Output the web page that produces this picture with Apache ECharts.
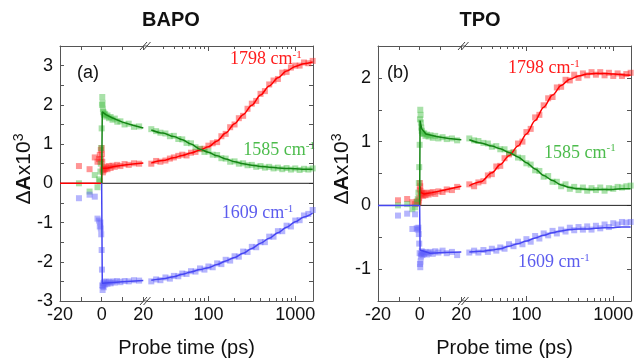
<!DOCTYPE html>
<html><head><meta charset="utf-8">
<script src="https://cdn.jsdelivr.net/npm/echarts@6/dist/echarts.min.js"></script>
<style>html,body{margin:0;padding:0;background:#fff}#c{width:638px;height:360px}</style>
</head><body><div id="c"></div><script>
// ---------- DATA ----------
// linear part (ps), panel (a) BAPO
const tLinA = [-10.9, -5.8, -3.3, -2.0, -1.3, -0.9, -0.6, -0.4, -0.2, 0, 0.15, 0.3, 0.45, 0.6, 0.8, 1.0, 1.3, 1.7, 2.2, 2.8, 3.5, 4.3, 5.2, 6.3, 7.5, 9, 11, 13, 15.5, 18];
const redLinA = [0.44, 0.36, 0.66, 0.55, 0.62, 0.72, 0.55, 0.85, 0.62, 0.90, 0.75, 0.55, 0.35, 0.28, 0.40, 0.33, 0.38, 0.36, 0.42, 0.36, 0.44, 0.39, 0.45, 0.42, 0.47, 0.44, 0.49, 0.47, 0.51, 0.50];
const greenLinA = [0.0, -0.21, 0.21, -0.1, 0.1, 0.05, 0.3, 0.5, 0.9, 1.4, 2.0, 2.2, 2.05, 1.9, 1.82, 1.78, 1.74, 1.77, 1.70, 1.73, 1.66, 1.69, 1.62, 1.65, 1.57, 1.58, 1.50, 1.52, 1.44, 1.45];
const blueLinA = [-0.38, -0.29, -0.34, -0.9, -0.95, -1.1, -1.0, -1.15, -1.3, -1.7, -2.2, -2.6, -2.72, -2.62, -2.55, -2.65, -2.52, -2.58, -2.50, -2.56, -2.52, -2.55, -2.50, -2.53, -2.49, -2.52, -2.49, -2.50, -2.47, -2.48];
// linear part (ps), panel (b) TPO
const tLinB = [-10.4, -6, -3.5, -2.2, -1.4, -0.9, -0.6, -0.4, -0.2, 0, 0.15, 0.3, 0.45, 0.6, 0.8, 1.0, 1.3, 1.7, 2.2, 2.8, 3.5, 4.3, 5.2, 6.3, 7.5, 9, 11, 13, 15.5, 18];
const redLinB = [0.08, 0.10, 0.05, 0.02, 0.06, 0.03, 0.08, 0.05, 0.12, 0.25, 0.35, 0.30, 0.22, 0.18, 0.20, 0.16, 0.19, 0.15, 0.19, 0.16, 0.20, 0.17, 0.19, 0.21, 0.18, 0.22, 0.21, 0.25, 0.24, 0.29];
const greenLinB = [0.0, 0.02, -0.06, -0.03, 0.05, 0.1, 0.2, 0.35, 0.6, 0.95, 1.35, 1.5, 1.42, 1.30, 1.22, 1.17, 1.14, 1.12, 1.13, 1.09, 1.11, 1.08, 1.10, 1.06, 1.09, 1.05, 1.07, 1.04, 1.05, 1.02];
const blueLinB = [-0.16, -0.13, -0.37, -0.14, -0.36, -0.38, -0.35, -0.45, -0.6, -0.75, -0.92, -0.97, -0.88, -0.80, -0.76, -0.72, -0.78, -0.74, -0.76, -0.73, -0.77, -0.75, -0.73, -0.76, -0.72, -0.74, -0.71, -0.75, -0.73, -0.78];
// log part (ps), shared time grid
const tLog = [22, 25, 28, 32, 36, 40, 45, 50, 56, 63, 71, 80, 90, 100, 112, 126, 141, 158, 178, 200, 224, 251, 282, 316, 355, 398, 447, 501, 562, 631, 708, 794, 891, 1000, 1122, 1259, 1413, 1585];
const redLogA = [0.50, 0.57, 0.55, 0.58, 0.63, 0.66, 0.70, 0.73, 0.71, 0.78, 0.80, 0.87, 0.88, 0.96, 1.02, 1.05, 1.20, 1.26, 1.43, 1.50, 1.66, 1.72, 1.90, 2.03, 2.10, 2.28, 2.35, 2.52, 2.62, 2.66, 2.82, 2.84, 2.95, 3.00, 3.00, 3.08, 3.06, 3.12];
const greenLogA = [1.38, 1.33, 1.29, 1.27, 1.20, 1.21, 1.13, 1.12, 1.03, 1.02, 0.92, 0.88, 0.80, 0.81, 0.73, 0.72, 0.64, 0.63, 0.55, 0.56, 0.50, 0.51, 0.46, 0.47, 0.42, 0.44, 0.40, 0.42, 0.38, 0.40, 0.36, 0.39, 0.35, 0.38, 0.34, 0.37, 0.35, 0.38];
const blueLogA = [-2.50, -2.45, -2.47, -2.40, -2.43, -2.36, -2.37, -2.30, -2.31, -2.24, -2.25, -2.17, -2.20, -2.12, -2.14, -2.04, -2.06, -1.95, -1.97, -1.86, -1.87, -1.74, -1.75, -1.62, -1.63, -1.50, -1.50, -1.36, -1.36, -1.22, -1.22, -1.08, -1.10, -0.95, -0.94, -0.82, -0.78, -0.68];
const redLogB = [0.33, 0.30, 0.36, 0.38, 0.47, 0.49, 0.61, 0.62, 0.74, 0.80, 0.83, 0.97, 1.00, 1.15, 1.20, 1.38, 1.42, 1.57, 1.68, 1.70, 1.85, 1.86, 1.97, 1.96, 2.05, 2.00, 2.07, 2.04, 2.09, 2.05, 2.09, 2.04, 2.08, 2.03, 2.07, 2.03, 2.06, 2.08];
const greenLogB = [1.05, 1.02, 1.01, 0.98, 0.97, 0.92, 0.93, 0.88, 0.88, 0.82, 0.83, 0.75, 0.74, 0.66, 0.64, 0.55, 0.54, 0.45, 0.46, 0.37, 0.37, 0.30, 0.33, 0.26, 0.29, 0.24, 0.28, 0.23, 0.27, 0.24, 0.28, 0.23, 0.27, 0.26, 0.29, 0.28, 0.30, 0.31];
const blueLogB = [-0.74, -0.71, -0.74, -0.70, -0.73, -0.68, -0.71, -0.66, -0.68, -0.61, -0.64, -0.57, -0.61, -0.53, -0.57, -0.48, -0.52, -0.44, -0.47, -0.40, -0.44, -0.38, -0.41, -0.35, -0.39, -0.34, -0.38, -0.33, -0.38, -0.32, -0.36, -0.30, -0.34, -0.28, -0.30, -0.26, -0.27, -0.26];
// fitted curves
const redFitLinA = [[-20, 0], [0, 0], [0.15, 0.62], [0.4, 0.38], [1, 0.36], [3, 0.39], [6, 0.43], [10, 0.46], [15, 0.49], [20, 0.52]];
const greenFitLinA = [[0, 0], [0.3, 1.82], [2, 1.75], [5, 1.67], [10, 1.56], [15, 1.48], [20, 1.41]];
const blueFitLinA = [[0, 0], [0.3, -2.55], [2, -2.54], [10, -2.51], [20, -2.48]];
const redFitLinB = [[0, 0], [0.2, 0.3], [0.6, 0.2], [2, 0.18], [6, 0.2], [12, 0.24], [20, 0.30]];
const greenFitLinB = [[0, 0], [0.2, 1.33], [1, 1.2], [3, 1.12], [8, 1.08], [14, 1.05], [20, 1.03]];
const blueFitLinB = [[-20, 0], [0, 0], [0.2, -0.7], [1, -0.72], [5, -0.75], [12, -0.74], [20, -0.73]];
const fitTLog = [22, 30, 40, 50, 63, 80, 100, 126, 158, 200, 251, 316, 398, 501, 631, 794, 1000, 1259, 1585];
const redFitLogA = [0.52, 0.58, 0.65, 0.71, 0.77, 0.85, 0.93, 1.08, 1.28, 1.52, 1.75, 1.99, 2.25, 2.48, 2.69, 2.86, 2.98, 3.05, 3.09];
const greenFitLogA = [1.36, 1.28, 1.19, 1.11, 1.00, 0.87, 0.79, 0.70, 0.62, 0.55, 0.50, 0.46, 0.43, 0.41, 0.39, 0.38, 0.37, 0.36, 0.36];
const blueFitLogA = [-2.47, -2.43, -2.38, -2.32, -2.26, -2.20, -2.15, -2.07, -1.98, -1.89, -1.78, -1.66, -1.53, -1.40, -1.26, -1.12, -0.98, -0.86, -0.76];
const redFitLogB = [0.31, 0.37, 0.51, 0.64, 0.78, 0.93, 1.12, 1.33, 1.54, 1.73, 1.88, 1.98, 2.03, 2.06, 2.07, 2.07, 2.06, 2.05, 2.04];
const greenFitLogB = [1.03, 0.98, 0.93, 0.89, 0.83, 0.76, 0.67, 0.57, 0.47, 0.39, 0.32, 0.28, 0.26, 0.25, 0.25, 0.25, 0.25, 0.26, 0.26];
const blueFitLogB = [-0.73, -0.72, -0.70, -0.68, -0.64, -0.60, -0.56, -0.51, -0.47, -0.43, -0.40, -0.38, -0.37, -0.37, -0.36, -0.35, -0.35, -0.34, -0.34];
// tick labels
const linTickLabels = [-20, 0, 20];
const logMajorTicks = [100, 1000];
const logMinorTicks = [30, 40, 50, 60, 70, 80, 90, 200, 300, 400, 500, 600, 700, 800, 900];
const panelTitles = ['BAPO', 'TPO'];
const panelTags = ['(a)', '(b)'];
const seriesNames = ['1798', '1585', '1609'];

// ---------- LAYOUT / STYLE ----------
const FONT = 'Liberation Sans, Arial, Helvetica, sans-serif';
const SERIF = 'Liberation Serif, Times New Roman, serif';
const AX = '#555';
const TOP = 46, H = 255;
const panels = [
  { lin: { left: 60, width: 83.3 }, log: { left: 147.7, width: 165.3 }, yMin: -3, yMax: 3.5,
    data: { lin: [tLinA, redLinA, greenLinA, blueLinA], log: [redLogA, greenLogA, blueLogA],
            fitLin: [redFitLinA, greenFitLinA, blueFitLinA], fitLog: [redFitLogA, greenFitLogA, blueFitLogA] } },
  { lin: { left: 378, width: 83.3 }, log: { left: 465.7, width: 165.3 }, yMin: -1.5, yMax: 2.5,
    data: { lin: [tLinB, redLinB, greenLinB, blueLinB], log: [redLogB, greenLogB, blueLogB],
            fitLin: [redFitLinB, greenFitLinB, blueFitLinB], fitLog: [redFitLogB, greenFitLogB, blueFitLogB] } }
];
const COLORS = [
  { pt: 'rgba(255,40,40,0.62)', line: '#ff0000', label: '#ff1c1c' },
  { pt: 'rgba(70,190,70,0.58)', line: '#148414', label: '#4cbc4c' },
  { pt: 'rgba(95,95,250,0.58)', line: '#4646f2', label: '#5c5cee' }
];
const pairs = (ts, vs) => ts.map((t, i) => [t, vs[i]]);
const labelStyle = { color: '#111', fontSize: 18, fontFamily: FONT };
const lineStyleAx = { color: AX, width: 1 };

const grid = [], xAxis = [], yAxis = [], series = [];
panels.forEach((p, pi) => {
  grid.push({ left: p.lin.left, width: p.lin.width, top: TOP, height: H });
  grid.push({ left: p.log.left, width: p.log.width, top: TOP, height: H });
  const gL = 2 * pi, gG = 2 * pi + 1;
  ['bottom', 'top'].forEach(pos => xAxis.push({
    gridIndex: gL, type: 'value', min: -20, max: 20, interval: 10, position: pos,
    axisLine: { show: true, onZero: false, lineStyle: lineStyleAx },
    axisTick: { inside: true, length: 4, lineStyle: lineStyleAx },
    axisLabel: pos === 'bottom' ? Object.assign({ margin: 5, showMaxLabel: true, showMinLabel: true,
      formatter: v => linTickLabels.includes(v) ? String(v) : '' }, labelStyle) : { show: false },
    splitLine: { show: false }
  }));
  ['bottom', 'top'].forEach(pos => {
    xAxis.push({
      gridIndex: gG, type: 'log', logBase: 10, min: 20, max: 1600, position: pos,
      axisLine: { show: true, onZero: false, lineStyle: lineStyleAx },
      axisTick: { inside: true, length: 5, customValues: logMajorTicks, lineStyle: lineStyleAx },
      axisLabel: pos === 'bottom' ? Object.assign({ margin: 5, customValues: logMajorTicks,
        formatter: v => String(Math.round(v)) }, labelStyle) : { show: false },
      splitLine: { show: false }
    });
    xAxis.push({
      gridIndex: gG, type: 'log', logBase: 10, min: 20, max: 1600, position: pos,
      axisLine: { show: false, onZero: false },
      axisTick: { inside: true, length: 3, customValues: logMinorTicks, lineStyle: lineStyleAx },
      axisLabel: { show: false }, splitLine: { show: false }
    });
  });
  yAxis.push({
    gridIndex: gL, type: 'value', min: p.yMin, max: p.yMax, interval: 0.5, position: 'left',
    axisLine: { show: true, onZero: false, lineStyle: lineStyleAx },
    axisTick: { inside: true, length: 4, lineStyle: lineStyleAx },
    axisLabel: Object.assign({ margin: 7, showMaxLabel: false,
      formatter: v => Number.isInteger(v) ? String(v) : '' }, labelStyle),
    splitLine: { show: false }
  });
  yAxis.push({
    gridIndex: gG, type: 'value', min: p.yMin, max: p.yMax, interval: 0.5, position: 'right',
    axisLine: { show: true, onZero: false, lineStyle: lineStyleAx },
    axisTick: { inside: true, length: 4, lineStyle: lineStyleAx },
    axisLabel: { show: false }, splitLine: { show: false }
  });
  const xL = 6 * pi, xG = 6 * pi + 2, yL = 2 * pi, yG = 2 * pi + 1;
  const d = p.data;
  for (let k = 0; k < 3; k++) {
    const pt = { type: 'scatter', symbol: 'rect', symbolSize: 6, silent: true, animation: false,
      itemStyle: { color: COLORS[k].pt }, z: 3 };
    series.push(Object.assign({}, pt, { xAxisIndex: xL, yAxisIndex: yL, data: pairs(d.lin[0], d.lin[k + 1]) }));
    series.push(Object.assign({}, pt, { xAxisIndex: xG, yAxisIndex: yG, data: pairs(tLog, d.log[k]) }));
  }
  for (let k = 0; k < 3; k++) {
    const ln = { type: 'line', showSymbol: false, silent: true, animation: false, z: 4,
      lineStyle: { color: COLORS[k].line, width: 1.5 } };
    series.push(Object.assign({}, ln, { xAxisIndex: xL, yAxisIndex: yL, data: d.fitLin[k] }));
    series.push(Object.assign({}, ln, { xAxisIndex: xG, yAxisIndex: yG, data: pairs(fitTLog, d.fitLog[k]),
      smooth: 0.3, smoothMonotone: 'x' }));
  }
});

const chart = echarts.init(document.getElementById('c'), null, { renderer: 'canvas' });
chart.setOption({ animation: false, grid, xAxis, yAxis, series });

// ---------- decorations ----------
const graphic = [];
const txt = (x, y, style, extra) => Object.assign({ type: 'text', x, y, silent: true, style }, extra || {});
const labelPos = [
  [[230, 59.5], [243.3, 150.5], [221.7, 213.7]],
  [[508, 68.7], [544, 153], [518, 262.7]]
];
const titleX = [171, 480], tagX = [77, 387], yNameX = [24, 342], xNameX = [186.5, 504.5];
panels.forEach((p, pi) => {
  const linR = p.lin.left + p.lin.width, logL = p.log.left, logR = p.log.left + p.log.width;
  const y0 = chart.convertToPixel({ yAxisIndex: 2 * pi }, 0);
  graphic.push({ type: 'line', z: 1, silent: true, shape: { x1: p.lin.left, y1: y0, x2: logR, y2: y0 },
    style: { stroke: '#222', lineWidth: 1 } });
  [TOP, TOP + H].forEach(yy => {
    graphic.push({ type: 'line', z: 10, silent: true, shape: { x1: linR, y1: yy, x2: logL, y2: yy }, style: { stroke: AX, lineWidth: 1 } });
    const cx = (linR + logL) / 2;
    [-2, 1.5].forEach(dx => graphic.push({ type: 'line', z: 10, silent: true,
      shape: { x1: cx + dx - 3.5, y1: yy + 4, x2: cx + dx + 3.5, y2: yy - 4 }, style: { stroke: '#444', lineWidth: 1 } }));
  });
  graphic.push(txt(titleX[pi], 20, { text: panelTitles[pi], font: 'bold 20px ' + FONT, fill: '#111',
    align: 'center', verticalAlign: 'middle', textAlign: 'center', textVerticalAlign: 'middle' }));
  graphic.push(txt(tagX[pi], 73, { text: panelTags[pi], font: '18px ' + FONT, fill: '#111',
    align: 'left', verticalAlign: 'middle', textAlign: 'left', textVerticalAlign: 'middle' }));
  graphic.push(txt(xNameX[pi], 348, { text: 'Probe time (ps)', font: '20px ' + FONT, fill: '#111',
    align: 'center', verticalAlign: 'middle', textAlign: 'center', textVerticalAlign: 'middle' }));
  graphic.push(txt(yNameX[pi], 169, {
    text: '{n|Δ}{b|A}{n|x10}{s|3}',
    rich: { n: { fontSize: 21, fontFamily: FONT, fill: '#111', lineHeight: 23 },
            b: { fontSize: 21, fontFamily: FONT, fontWeight: 'bold', fill: '#111', lineHeight: 23 },
            s: { fontSize: 14, fontFamily: FONT, fill: '#111', verticalAlign: 'top', lineHeight: 14 } },
    align: 'center', verticalAlign: 'middle', textAlign: 'center', textVerticalAlign: 'middle'
  }, { rotation: Math.PI / 2 }));
  for (let k = 0; k < 3; k++) {
    const [lx, ly] = labelPos[pi][k];
    graphic.push(txt(lx, ly, {
      text: '{a|' + seriesNames[k] + ' cm}{s|-1}',
      rich: { a: { fontSize: 18, fontFamily: SERIF, fill: COLORS[k].label, lineHeight: 20 },
              s: { fontSize: 11, fontFamily: SERIF, fill: COLORS[k].label, verticalAlign: 'top', lineHeight: 11 } },
      align: 'left', verticalAlign: 'middle', textAlign: 'left', textVerticalAlign: 'middle'
    }));
  }
});
chart.setOption({ graphic });
</script></body></html>
